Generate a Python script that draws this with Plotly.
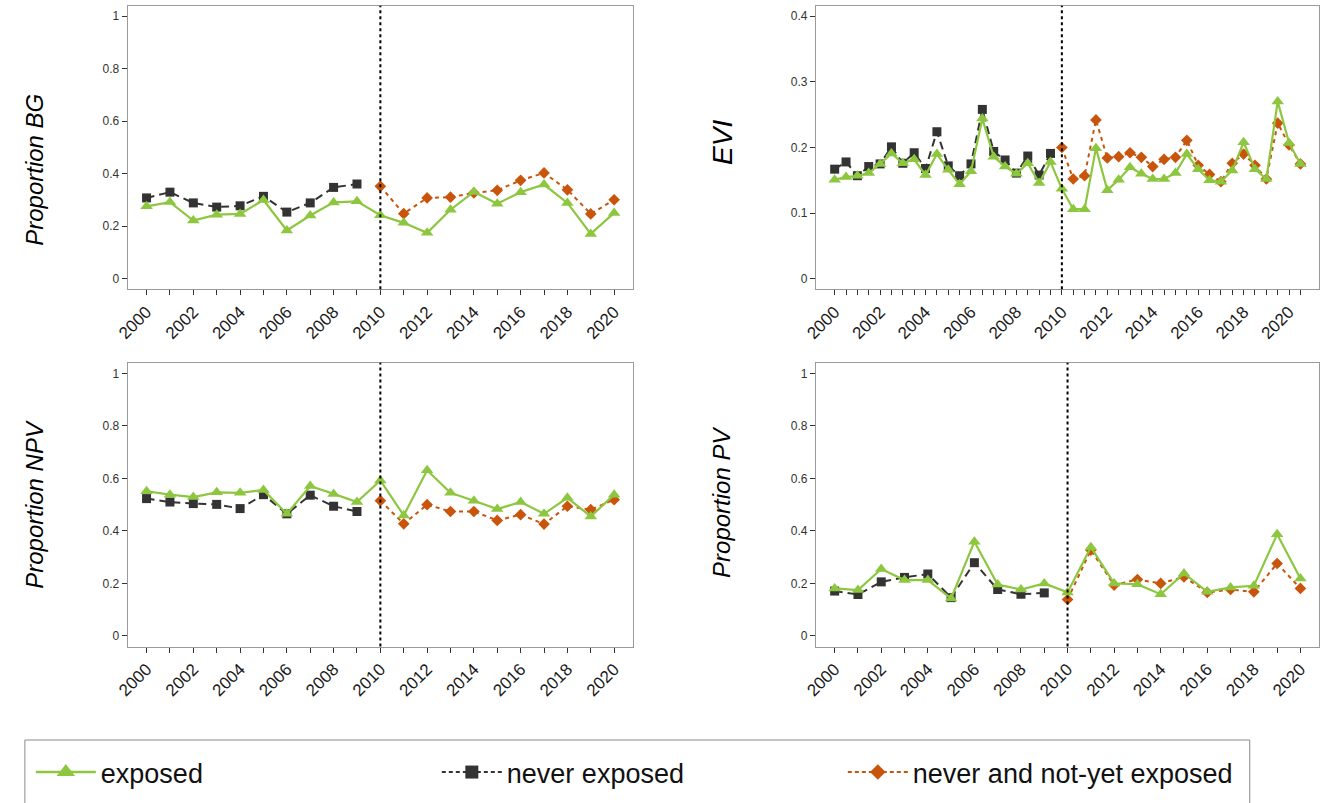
import plotly.graph_objects as go

# ---------------- data ----------------
years = list(range(2000, 2021))
years_never = list(range(2000, 2010))
years_post = list(range(2010, 2021))

bg_exposed = [0.276, 0.292, 0.222, 0.244, 0.247, 0.300, 0.184, 0.241, 0.291, 0.295,
              0.242, 0.213, 0.175, 0.263, 0.331, 0.286, 0.330, 0.359, 0.289, 0.171, 0.251]
bg_never = [0.308, 0.330, 0.289, 0.273, 0.278, 0.314, 0.254, 0.289, 0.348, 0.361]
bg_notyet = [0.352, 0.248, 0.308, 0.311, 0.327, 0.337, 0.375, 0.403, 0.339, 0.247, 0.301]

npv_exposed = [0.551, 0.538, 0.529, 0.547, 0.545, 0.556, 0.465, 0.571, 0.541, 0.510,
               0.592, 0.459, 0.631, 0.545, 0.515, 0.483, 0.510, 0.465, 0.526, 0.455, 0.538]
npv_never = [0.523, 0.510, 0.504, 0.501, 0.485, 0.538, 0.465, 0.536, 0.494, 0.474]
npv_notyet = [0.515, 0.427, 0.500, 0.474, 0.474, 0.440, 0.462, 0.426, 0.494, 0.481, 0.519]

pv_exposed = [0.181, 0.175, 0.255, 0.213, 0.213, 0.143, 0.359, 0.196, 0.177, 0.200,
              0.166, 0.338, 0.200, 0.197, 0.159, 0.238, 0.168, 0.185, 0.191, 0.387, 0.219]
pv_never = [0.171, 0.158, 0.206, 0.223, 0.236, 0.146, 0.279, 0.177, 0.159, 0.164]
pv_notyet = [0.139, 0.327, 0.194, 0.215, 0.200, 0.225, 0.166, 0.177, 0.168, 0.276, 0.181]

# EVI is half-yearly
evi_periods = [2000 + 0.5 * i for i in range(42)]
evi_periods_never = evi_periods[:20]
evi_periods_post = evi_periods[20:]
evi_exposed = [0.151, 0.155, 0.157, 0.161, 0.175, 0.191, 0.176, 0.182, 0.158, 0.190,
               0.166, 0.144, 0.164, 0.244, 0.186, 0.171, 0.160, 0.176, 0.146, 0.178,
               0.137, 0.106, 0.106, 0.199, 0.135, 0.151, 0.170, 0.160, 0.152, 0.152,
               0.161, 0.190, 0.167, 0.150, 0.148, 0.165, 0.208, 0.167, 0.152, 0.270,
               0.207, 0.175]
evi_never = [0.167, 0.178, 0.157, 0.171, 0.175, 0.201, 0.176, 0.192, 0.168, 0.224,
             0.172, 0.157, 0.175, 0.258, 0.194, 0.181, 0.161, 0.187, 0.158, 0.191]
evi_notyet = [0.200, 0.152, 0.157, 0.242, 0.184, 0.186, 0.192, 0.185, 0.171, 0.182,
              0.185, 0.211, 0.173, 0.159, 0.148, 0.176, 0.190, 0.173, 0.152, 0.237,
              0.204, 0.175]

series_names = ["exposed", "never exposed", "never and not-yet exposed"]
panel_titles = ["Proportion BG", "EVI", "Proportion NPV", "Proportion PV"]
treatment_year = 2010

# ---------------- style ----------------
GREEN = "#8DC63F"
DARK = "#333333"
ORANGE = "#C9550C"
FONT = "Liberation Sans, Arial, sans-serif"
W, H = 1324, 803

fig = go.Figure()

def add_panel(ax, xe, ye, xn, yn, xp, yp):
    xa = "x" if ax == 1 else f"x{ax}"
    ya = "y" if ax == 1 else f"y{ax}"
    fig.add_trace(go.Scatter(x=xn, y=yn, mode="lines+markers", xaxis=xa, yaxis=ya,
                             line=dict(color=DARK, width=2, dash="8px,5px"),
                             marker=dict(symbol="square", size=9, color=DARK),
                             showlegend=False, cliponaxis=False))
    fig.add_trace(go.Scatter(x=xp, y=yp, mode="lines+markers", xaxis=xa, yaxis=ya,
                             line=dict(color=ORANGE, width=2, dash="4px,4px"),
                             marker=dict(symbol="diamond", size=9, color=ORANGE),
                             showlegend=False, cliponaxis=False))
    fig.add_trace(go.Scatter(x=xe, y=ye, mode="lines+markers", xaxis=xa, yaxis=ya,
                             line=dict(color=GREEN, width=2.2),
                             marker=dict(symbol="triangle-up", size=11, color=GREEN),
                             showlegend=False, cliponaxis=False))

add_panel(1, years, bg_exposed, years_never, bg_never, years_post, bg_notyet)
add_panel(2, evi_periods, evi_exposed, evi_periods_never, evi_never, evi_periods_post, evi_notyet)
add_panel(3, years, npv_exposed, years_never, npv_never, years_post, npv_notyet)
add_panel(4, years, pv_exposed, years_never, pv_never, years_post, pv_notyet)

# legend entries
fig.add_trace(go.Scatter(x=[None], y=[None], mode="lines+markers", name=series_names[0],
                         line=dict(color=GREEN, width=2.5),
                         marker=dict(symbol="triangle-up", size=16, color=GREEN)))
fig.add_trace(go.Scatter(x=[None], y=[None], mode="lines+markers", name=series_names[1],
                         line=dict(color=DARK, width=2, dash="4px,3px"),
                         marker=dict(symbol="square", size=13, color=DARK)))
fig.add_trace(go.Scatter(x=[None], y=[None], mode="lines+markers", name=series_names[2],
                         line=dict(color=ORANGE, width=2, dash="4px,3px"),
                         marker=dict(symbol="diamond", size=12, color=ORANGE)))

# ---------------- axes ----------------
xl = [116 / W, 626 / W]
xr = [811 / W, 1319 / W]
yt = [1 - 289.3 / H, 1 - 5.7 / H]
yb = [1 - 646.5 / H, 1 - 362.8 / H]

year_ticks = list(range(2000, 2021))
year_text = [str(y) if y % 2 == 0 else "" for y in year_ticks]
half_ticks = [2000 + 0.5 * i for i in range(42)]
half_text = [str(int(t)) if (t == int(t) and int(t) % 2 == 0) else "" for t in half_ticks]

common_axis = dict(showline=True, mirror=True, linecolor="#9a9a9a", linewidth=1.3,
                   ticks="outside", ticklen=5, tickwidth=1, tickcolor="#333333",
                   showgrid=False, zeroline=False, fixedrange=True)
xfont = dict(family=FONT, size=17, color="#1a1a1a")
yfont = dict(family=FONT, size=12, color="#333333")

def xaxis(domain, anchor, ticks, text, rng):
    return dict(domain=domain, anchor=anchor, range=rng, tickmode="array",
                tickvals=ticks, ticktext=text, tickangle=-45, tickfont=xfont, **common_axis)

def yaxis(domain, anchor, vals, rng):
    return dict(domain=domain, anchor=anchor, range=rng, tickmode="array",
                tickvals=vals, ticktext=[("%g" % v) for v in vals], tickfont=yfont,
                **common_axis)

prop_vals = [0, 0.2, 0.4, 0.6, 0.8, 1]
evi_vals = [0, 0.1, 0.2, 0.3, 0.4]

fig.update_layout(
    xaxis=xaxis(xl, "y", year_ticks, year_text, [1999.2, 2020.8]),
    yaxis=yaxis(yt, "x", prop_vals, [-0.04, 1.04]),
    xaxis2=xaxis(xr, "y2", half_ticks, half_text, [1999.18, 2021.32]),
    yaxis2=yaxis(yt, "x2", evi_vals, [-0.016, 0.416]),
    xaxis3=xaxis(xl, "y3", year_ticks, year_text, [1999.2, 2020.8]),
    yaxis3=yaxis(yb, "x3", prop_vals, [-0.04, 1.04]),
    xaxis4=xaxis(xr, "y4", year_ticks, year_text, [1999.2, 2020.8]),
    yaxis4=yaxis(yb, "x4", prop_vals, [-0.04, 1.04]),
)

# treatment-year dotted lines
for i in range(1, 5):
    xa = "x" if i == 1 else f"x{i}"
    ya = "y domain" if i == 1 else f"y{i} domain"
    fig.add_shape(type="line", xref=xa, yref=ya, x0=treatment_year, x1=treatment_year,
                  y0=0, y1=1, line=dict(color="black", width=2, dash="3px,3px"))

# y-axis titles
title_pos = [(22, 170, 24), (716, 142, 28), (22, 504, 24), (716, 502, 24)]
for t, (px, py, fs) in zip(panel_titles, title_pos):
    fig.add_annotation(text=f"<i>{t}</i>", xref="paper", yref="paper",
                       x=px / W, y=1 - py / H, xanchor="center", yanchor="middle",
                       textangle=-90, showarrow=False,
                       font=dict(family=FONT, size=fs, color="black"))

# legend frame
fig.add_shape(type="rect", xref="paper", yref="paper", x0=12 / W, x1=1249 / W,
              y0=-0.05, y1=1 - 740 / H, line=dict(color="#8a8a8a", width=1))

fig.update_layout(
    width=W, height=H,
    margin=dict(l=0, r=0, t=0, b=0),
    paper_bgcolor="white", plot_bgcolor="white",
    showlegend=True,
    legend=dict(orientation="h", x=18 / W, y=1 - 748 / H, xanchor="left", yanchor="top",
                font=dict(family=FONT, size=27, color="#111111"),
                itemwidth=60, entrywidth=331, entrywidthmode="pixels",
                bgcolor="rgba(0,0,0,0)", borderwidth=0, itemsizing="trace"),
)

fig.write_html("out.html", config={"displayModeBar": False},
               post_script="document.body.style.margin='0';")
